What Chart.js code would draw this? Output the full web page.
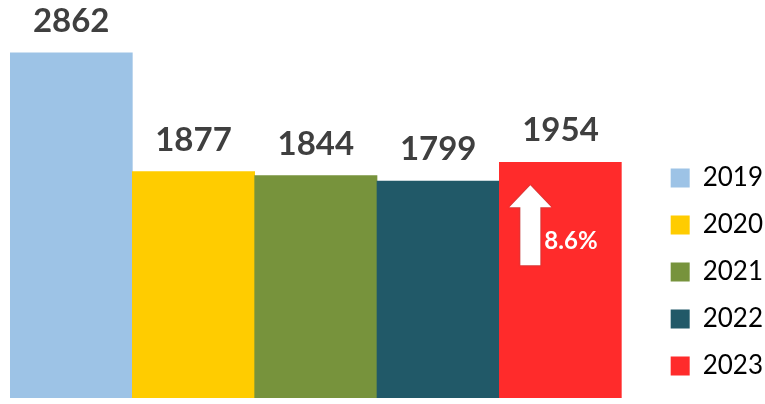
<!DOCTYPE html>
<html>
<head>
<meta charset="utf-8">
<script src="https://cdn.jsdelivr.net/npm/chart.js@4/dist/chart.umd.min.js"></script>
<style>
  body { margin: 0; background: #fff; }
</style>
</head>
<body>
<canvas id="myChart" width="765" height="404"></canvas>
<script>
const years = ['2019', '2020', '2021', '2022', '2023'];
const values = [2862, 1877, 1844, 1799, 1954];
const colors = ['#9dc3e6', '#ffcc00', '#77933c', '#215968', '#ff2b2b'];
const growthLabel = '8.6%';

// value labels above each bar
const valueLabels = {
  id: 'valueLabels',
  afterDatasetsDraw(chart) {
    const ctx = chart.ctx;
    const meta = chart.getDatasetMeta(0);
    ctx.save();
    ctx.font = 'bold 33px Lato';
    ctx.fillStyle = '#3f3f3f';
    ctx.textAlign = 'center';
    ctx.textBaseline = 'alphabetic';
    meta.data.forEach((bar, i) => {
      ctx.fillText(values[i], bar.x, bar.y - 21);
    });
    ctx.restore();
  }
};

// white up arrow + growth text on the last bar
const growthArrow = {
  id: 'growthArrow',
  afterDatasetsDraw(chart) {
    const ctx = chart.ctx;
    const meta = chart.getDatasetMeta(0);
    const bar = meta.data[meta.data.length - 1];
    const left = bar.x - bar.width / 2;
    const cx = left + 31;
    const top = bar.y + 23;
    ctx.save();
    ctx.shadowColor = 'rgba(90,90,90,0.6)';
    ctx.shadowBlur = 2;
    ctx.fillStyle = '#ffffff';
    ctx.beginPath();
    ctx.moveTo(cx, top);
    ctx.lineTo(cx + 21, top + 22);
    ctx.lineTo(cx + 10, top + 22);
    ctx.lineTo(cx + 10, top + 80);
    ctx.lineTo(cx - 10, top + 80);
    ctx.lineTo(cx - 10, top + 22);
    ctx.lineTo(cx - 21, top + 22);
    ctx.closePath();
    ctx.fill();
    ctx.shadowBlur = 0;
    ctx.shadowColor = 'transparent';
    ctx.font = 'bold 24px Lato';
    ctx.textAlign = 'left';
    ctx.textBaseline = 'middle';
    ctx.fillStyle = '#ffffff';
    ctx.fillText(growthLabel, left + 45, top + 56);
    ctx.restore();
  }
};

// push the legend a bit to the right of the plot
const legendShift = {
  id: 'legendShift',
  afterLayout(chart) {
    chart.legend.left += 28;
    chart.legend.right += 28;
    chart.legend.top += 2;
    chart.legend.bottom += 2;
  }
};

const config = {
  type: 'bar',
  data: {
    labels: years,
    datasets: [{
      data: values,
      backgroundColor: colors,
      borderWidth: 0,
      categoryPercentage: 1,
      barPercentage: 1
    }]
  },
  options: {
    responsive: false,
    animation: false,
    layout: {
      padding: { left: 10, top: 0, bottom: 6, right: 20 }
    },
    scales: {
      x: { display: false },
      y: { display: false, min: 0, max: 3300 }
    },
    plugins: {
      tooltip: { enabled: false },
      legend: {
        position: 'right',
        align: 'end',
        labels: {
          boxWidth: 19,
          boxHeight: 19,
          padding: 21,
          color: '#1a1a1a',
          font: { family: 'Lato', size: 26 },
          generateLabels(chart) {
            return years.map((y, i) => ({
              text: y,
              fillStyle: colors[i],
              strokeStyle: colors[i],
              lineWidth: 0,
              index: i
            }));
          }
        }
      }
    }
  },
  plugins: [valueLabels, growthArrow, legendShift]
};

var myChart = new Chart(document.getElementById('myChart'), config);
</script>
</body>
</html>
